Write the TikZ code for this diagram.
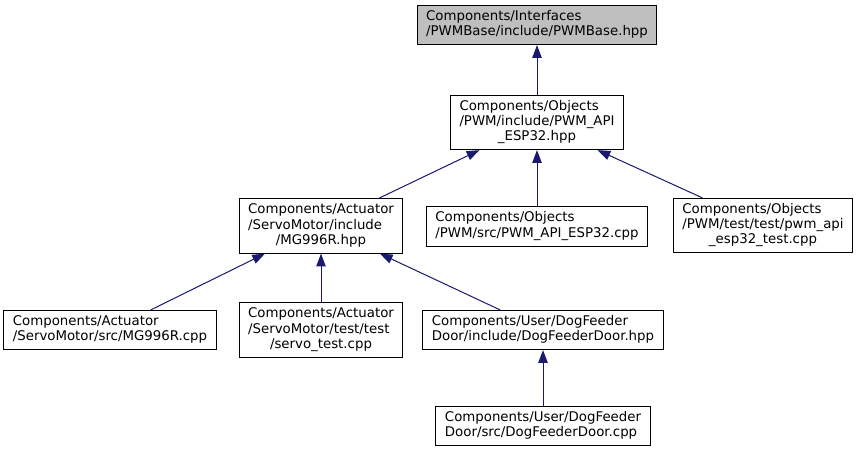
\documentclass[tikz,border=0pt]{standalone}
\usepackage{fontspec}
\setmainfont{DejaVu Sans}
\usetikzlibrary{arrows.meta}
\definecolor{edgeblue}{HTML}{191970}
\definecolor{rootgray}{HTML}{BFBFBF}
\newcommand{\fname}[1]{\begin{tabular}{@{}l@{}}#1\end{tabular}}
\newcommand{\lastc}[1]{\multicolumn{1}{@{}c@{}}{#1}}
\tikzset{
  file/.style={draw=black, line width=0.75pt, fill=white, inner xsep=6.8pt, inner ysep=3.4pt,
    font=\fontsize{10}{11.3}\selectfont},
  dep/.style={edgeblue, line width=0.75pt, {Triangle[length=9.5pt,width=7pt]}-}
}

\begin{document}
\begin{tikzpicture}[x=0.75pt,y=-0.75pt]
\useasboundingbox (0,0) rectangle (858,453);
% header and the files that include it
\node[file, fill=rootgray] (base) at (537,25) {\fname{Components/Interfaces\\/PWMBase/include/PWMBase.hpp}};
\node[file] (pwmapi) at (537,122.5) {\fname{Components/Objects\\/PWM/include/PWM\_API\\\lastc{\_ESP32.hpp}}};
\node[file] (mghpp) at (321,226) {\fname{Components/Actuator\\/ServoMotor/include\\\lastc{/MG996R.hpp}}};
\node[file] (pwmcpp) at (537,226.5) {\fname{Components/Objects\\/PWM/src/PWM\_API\_ESP32.cpp}};
\node[file] (pwmtest) at (763,225.5) {\fname{Components/Objects\\/PWM/test/test/pwm\_api\\\lastc{\_esp32\_test.cpp}}};
\node[file] (mgcpp) at (110,330) {\fname{Components/Actuator\\/ServoMotor/src/MG996R.cpp}};
\node[file] (servotest) at (321,330) {\fname{Components/Actuator\\/ServoMotor/test/test\\\lastc{/servo\_test.cpp}}};
\node[file] (doorhpp) at (543,330) {\fname{Components/User/DogFeeder\\Door/include/DogFeederDoor.hpp}};
\node[file] (doorcpp) at (543,426) {\fname{Components/User/DogFeeder\\Door/src/DogFeederDoor.cpp}};

\draw[dep] (base) -- (pwmapi);
\draw[dep] (pwmapi) -- (mghpp);
\draw[dep] (pwmapi) -- (pwmcpp);
\draw[dep] (pwmapi) -- (pwmtest);
\draw[dep] (mghpp) -- (mgcpp);
\draw[dep] (mghpp) -- (servotest);
\draw[dep] (mghpp) -- (doorhpp);
\draw[dep] (doorhpp) -- (doorcpp);
\end{tikzpicture}
\end{document}
